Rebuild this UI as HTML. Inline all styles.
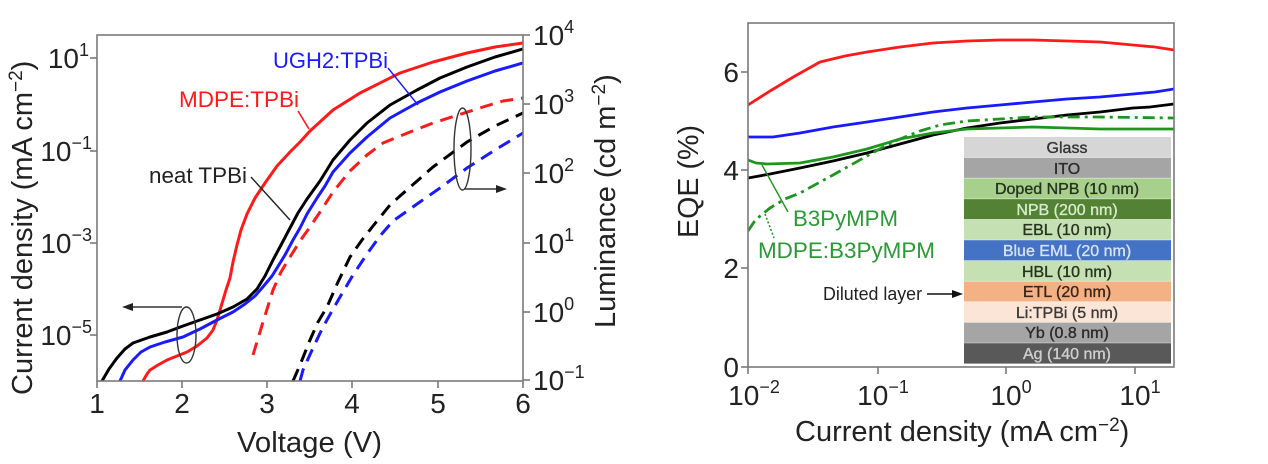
<!DOCTYPE html>
<html><head><meta charset="utf-8"><style>
html,body{margin:0;padding:0;background:#fff;}
svg{display:block;}
text{font-family:"Liberation Sans",Arial,sans-serif;}
</style></head><body>
<svg width="1268" height="464" viewBox="0 0 1268 464" xmlns="http://www.w3.org/2000/svg">
<defs>
<clipPath id="cl"><rect x="97" y="35" width="426" height="346"/></clipPath>
<clipPath id="cr"><rect x="748" y="23" width="426" height="344"/></clipPath>
</defs>
<rect width="1268" height="464" fill="#fff"/>

<!-- LEFT CHART -->
<g clip-path="url(#cl)" fill="none" stroke-width="3" stroke-linejoin="round" stroke-linecap="butt">
<polyline stroke="#ff1a1a" stroke-dasharray="13 8" points="253,355 263,322 273,290 281,272 290,257 300,241 310,227 320,212 333,192 350,171 367,155 383,143 410,132 433,123 458,115 483,107 503,101 523,98"/>
<polyline stroke="#000" stroke-dasharray="13 8" points="293,381 300,365 310,340 318,322 327,307 338,282 350,257 362,240 373,226 390,205 400,196 433,167 467,142 495,126 523,113"/>
<polyline stroke="#1a1aff" stroke-dasharray="13 8" points="300,381 303,370 313,348 323,327 332,311 340,297 353,275 367,254 380,236 393,221 417,204 440,188 467,168 495,150 523,133"/>
<polyline stroke="#ff1a1a" points="143,381 147,374 150,370 158,365 167,360 177,356 187,352 197,346 207,338 213,330 217,320 220,310 223,300 226,290 230,278 233,262 237,245 241,230 247,214 255,198 265,183 277,166 290,152 300,142 310,131 333,110 360,93 400,73 433,62 467,53 495,47 523,43"/>
<polyline stroke="#1a1aff" points="120,381 125,370 133,360 141,352 150,347 165,342 183,337 200,329 217,320 233,312 245,304 255,296 262,288 267,282 272,276 277,268 285,255 293,240 300,228 307,214 317,198 325,186 333,172 350,153 367,137 390,118 417,103 440,92 467,81 495,71 523,63"/>
<polyline stroke="#000" points="102,381 109,369 117,358 125,349 133,343 150,337 167,332 183,326 200,320 217,314 233,307 247,299 257,289 265,276 273,260 281,245 290,228 298,213 307,199 320,181 333,160 350,140 367,123 390,105 417,90 440,78 467,67 495,57 523,49"/>
</g>
<!-- frame -->
<rect x="97" y="35" width="426" height="346" fill="none" stroke="#7a7a7a" stroke-width="1.6"/>
<g stroke="#7a7a7a" stroke-width="1.6">
<line x1="90" y1="58" x2="97" y2="58"/><line x1="90" y1="151" x2="97" y2="151"/><line x1="90" y1="243" x2="97" y2="243"/><line x1="90" y1="335" x2="97" y2="335"/>
<line x1="97" y1="381" x2="97" y2="388"/><line x1="182" y1="381" x2="182" y2="388"/><line x1="267" y1="381" x2="267" y2="388"/><line x1="352" y1="381" x2="352" y2="388"/><line x1="438" y1="381" x2="438" y2="388"/><line x1="523" y1="381" x2="523" y2="388"/>
<line x1="523" y1="35" x2="530" y2="35"/><line x1="523" y1="104" x2="530" y2="104"/><line x1="523" y1="173" x2="530" y2="173"/><line x1="523" y1="243" x2="530" y2="243"/><line x1="523" y1="312" x2="530" y2="312"/><line x1="523" y1="380" x2="530" y2="380"/>
</g>
<!-- left tick labels -->
<g font-size="28" fill="#222" text-anchor="end">
<text x="89" y="68">10<tspan dy="-12" font-size="18">1</tspan></text>
<text x="92" y="161">10<tspan dy="-12" font-size="18">−1</tspan></text>
<text x="92" y="253">10<tspan dy="-12" font-size="18">−3</tspan></text>
<text x="92" y="345">10<tspan dy="-12" font-size="18">−5</tspan></text>
</g>
<g font-size="28" fill="#222" text-anchor="middle">
<text x="97" y="413">1</text><text x="182" y="413">2</text><text x="267" y="413">3</text><text x="352" y="413">4</text><text x="438" y="413">5</text><text x="523" y="413">6</text>
</g>
<g font-size="28" fill="#222">
<text x="533" y="45">10<tspan dy="-12" font-size="18">4</tspan></text>
<text x="533" y="114">10<tspan dy="-12" font-size="18">3</tspan></text>
<text x="533" y="183">10<tspan dy="-12" font-size="18">2</tspan></text>
<text x="533" y="253">10<tspan dy="-12" font-size="18">1</tspan></text>
<text x="533" y="322">10<tspan dy="-12" font-size="18">0</tspan></text>
<text x="533" y="390">10<tspan dy="-12" font-size="18">−1</tspan></text>
</g>
<!-- axis labels -->
<text x="237" y="452" font-size="29" fill="#222" textLength="145" lengthAdjust="spacingAndGlyphs">Voltage (V)</text>
<text transform="translate(32,395) rotate(-90)" font-size="29" fill="#222">Current density (mA cm<tspan dy="-10" font-size="19">−2</tspan><tspan dy="10">)</tspan></text>
<text transform="translate(615,328) rotate(-90)" font-size="29" fill="#222">Luminance (cd m<tspan dy="-10" font-size="19">−2</tspan><tspan dy="10">)</tspan></text>
<!-- annotations -->
<text x="273" y="68" font-size="22" fill="#1a1aff" textLength="115" lengthAdjust="spacingAndGlyphs">UGH2:TPBi</text>
<line x1="388" y1="68" x2="418" y2="105" stroke="#1a1aff" stroke-width="1.4"/>
<text x="179" y="107" font-size="22" fill="#ff1a1a" textLength="120" lengthAdjust="spacingAndGlyphs">MDPE:TPBi</text>
<line x1="298" y1="111" x2="309" y2="129" stroke="#ff1a1a" stroke-width="1.6"/>
<text x="149" y="183" font-size="22" fill="#222" textLength="98" lengthAdjust="spacingAndGlyphs">neat TPBi</text>
<line x1="251" y1="177" x2="290" y2="220" stroke="#222" stroke-width="1.4"/>
<g fill="none" stroke="#333" stroke-width="1.4">
<ellipse cx="186.5" cy="335" rx="9.5" ry="28"/>
<line x1="182" y1="307" x2="130" y2="307"/>
<ellipse cx="462.5" cy="149" rx="8.5" ry="41"/>
<line x1="464" y1="189" x2="499" y2="189"/>
</g>
<polygon points="122,307 133,303 133,311" fill="#222"/>
<polygon points="507,189 496,185 496,193" fill="#222"/>

<!-- RIGHT CHART -->
<g clip-path="url(#cr)" fill="none" stroke-linejoin="round" stroke-width="2.8">
<polyline stroke="#ff1a1a" points="748,105 770,91 795,76 820,62 845,56 867,52 900,47 933,43 967,41 1000,40 1033,40 1067,41 1100,42 1133,45 1155,47 1174,50"/>
<polyline stroke="#1a1aff" points="748,137 773,137 800,133 833,127 867,122 900,117 933,112 967,108 1000,105 1033,102 1067,99 1100,97 1133,94 1155,92 1174,89"/>
<polyline stroke="#000" points="748,178 770,174 800,168 833,161 867,153 900,144 933,135 967,128 1000,123 1033,119 1067,115 1100,112 1133,108 1150,107 1174,104"/>
<polyline stroke="#1e961e" points="748,160 756,163 767,164 800,163 833,157 867,149 900,139 933,133 967,129 1000,128 1033,127 1067,128 1100,129 1174,129"/>
<polyline stroke="#1e961e" stroke-dasharray="12 5 3 5" points="748,231 754,222 760,216 770,208 785,199 800,193 833,175 867,156 885,146 900,139 920,131 940,125 967,121 1000,119 1033,117 1100,117 1174,118"/>
</g>
<!-- inset layer stack -->
<g font-size="16" text-anchor="middle" stroke-width="0.35">
<rect x="964" y="137" width="207" height="20.6" fill="#d6d6d6"/>
<rect x="964" y="157.6" width="207" height="20.6" fill="#a5a5a5"/>
<rect x="964" y="178.2" width="207" height="20.6" fill="#a8d08d"/>
<rect x="964" y="198.8" width="207" height="20.6" fill="#548235"/>
<rect x="964" y="219.4" width="207" height="20.6" fill="#c5e0b3"/>
<rect x="964" y="240" width="207" height="20.6" fill="#4472c4"/>
<rect x="964" y="260.6" width="207" height="20.6" fill="#c5e0b3"/>
<rect x="964" y="281.2" width="207" height="20.6" fill="#f4b183"/>
<rect x="964" y="301.8" width="207" height="20.6" fill="#fbe5d6"/>
<rect x="964" y="322.4" width="207" height="20.6" fill="#a5a5a5"/>
<rect x="964" y="343" width="207" height="20.6" fill="#595959"/>
<g stroke="#fff" stroke-opacity="0.5" stroke-width="0.8">
<line x1="964" y1="157.6" x2="1171" y2="157.6"/><line x1="964" y1="178.2" x2="1171" y2="178.2"/><line x1="964" y1="198.8" x2="1171" y2="198.8"/><line x1="964" y1="219.4" x2="1171" y2="219.4"/><line x1="964" y1="240" x2="1171" y2="240"/><line x1="964" y1="260.6" x2="1171" y2="260.6"/><line x1="964" y1="281.2" x2="1171" y2="281.2"/><line x1="964" y1="301.8" x2="1171" y2="301.8"/><line x1="964" y1="322.4" x2="1171" y2="322.4"/><line x1="964" y1="343" x2="1171" y2="343"/>
</g>
<text x="1067" y="153" fill="#333" stroke="#333">Glass</text>
<text x="1067" y="174" fill="#2a2a2a" stroke="#2a2a2a">ITO</text>
<text x="1067" y="194" fill="#26321f" stroke="#26321f">Doped NPB (10 nm)</text>
<text x="1067" y="215" fill="#d8ebcc" stroke="#d8ebcc">NPB (200 nm)</text>
<text x="1067" y="235" fill="#26321f" stroke="#26321f">EBL (10 nm)</text>
<text x="1067" y="256" fill="#d6e2f8" stroke="#d6e2f8">Blue EML (20 nm)</text>
<text x="1067" y="277" fill="#26321f" stroke="#26321f">HBL (10 nm)</text>
<text x="1067" y="297" fill="#3a2418" stroke="#3a2418">ETL (20 nm)</text>
<text x="1067" y="318" fill="#3a3a3a" stroke="#3a3a3a">Li:TPBi (5 nm)</text>
<text x="1067" y="338" fill="#2a2a2a" stroke="#2a2a2a">Yb (0.8 nm)</text>
<text x="1067" y="359" fill="#cfcfcf" stroke="#cfcfcf">Ag (140 nm)</text>
</g>
<!-- frame -->
<rect x="748" y="23" width="426" height="344" fill="none" stroke="#7a7a7a" stroke-width="1.6"/>
<g stroke="#7a7a7a" stroke-width="1.6">
<line x1="741" y1="72" x2="748" y2="72"/><line x1="741" y1="170" x2="748" y2="170"/><line x1="741" y1="268" x2="748" y2="268"/><line x1="741" y1="367" x2="748" y2="367"/>
<line x1="748" y1="367" x2="748" y2="374"/><line x1="878" y1="367" x2="878" y2="374"/><line x1="1006" y1="367" x2="1006" y2="374"/><line x1="1135" y1="367" x2="1135" y2="374"/>
</g>
<g font-size="28" fill="#222" text-anchor="end">
<text x="739" y="82">6</text><text x="739" y="180">4</text><text x="739" y="278">2</text><text x="739" y="377">0</text>
</g>
<g font-size="28" fill="#222" text-anchor="middle">
<text x="754" y="405">10<tspan dy="-12" font-size="18">−2</tspan></text>
<text x="883" y="405">10<tspan dy="-12" font-size="18">−1</tspan></text>
<text x="1011" y="405">10<tspan dy="-12" font-size="18">0</tspan></text>
<text x="1140" y="405">10<tspan dy="-12" font-size="18">1</tspan></text>
</g>
<text x="795" y="441" font-size="29" fill="#222">Current density (mA cm<tspan dy="-10" font-size="19">−2</tspan><tspan dy="10">)</tspan></text>
<text transform="translate(698,238) rotate(-90)" font-size="29" fill="#222" textLength="113" lengthAdjust="spacingAndGlyphs">EQE (%)</text>
<!-- annotations -->
<text x="793" y="226" font-size="22" fill="#2a9a34" textLength="105" lengthAdjust="spacingAndGlyphs">B3PyMPM</text>
<text x="758" y="258" font-size="22" fill="#2a9a34" textLength="177" lengthAdjust="spacingAndGlyphs">MDPE:B3PyMPM</text>
<line x1="762" y1="165" x2="788" y2="212" stroke="#1e961e" stroke-width="1.4"/>
<line x1="765" y1="214" x2="774" y2="238" stroke="#1e961e" stroke-width="1.6" stroke-dasharray="2 2"/>
<text x="823" y="300" font-size="18" fill="#222" textLength="99" lengthAdjust="spacingAndGlyphs">Diluted layer</text>
<line x1="927" y1="294" x2="954" y2="294" stroke="#111" stroke-width="1.6"/>
<polygon points="963,294 952,290 952,298" fill="#111"/>
</svg>
</body></html>
